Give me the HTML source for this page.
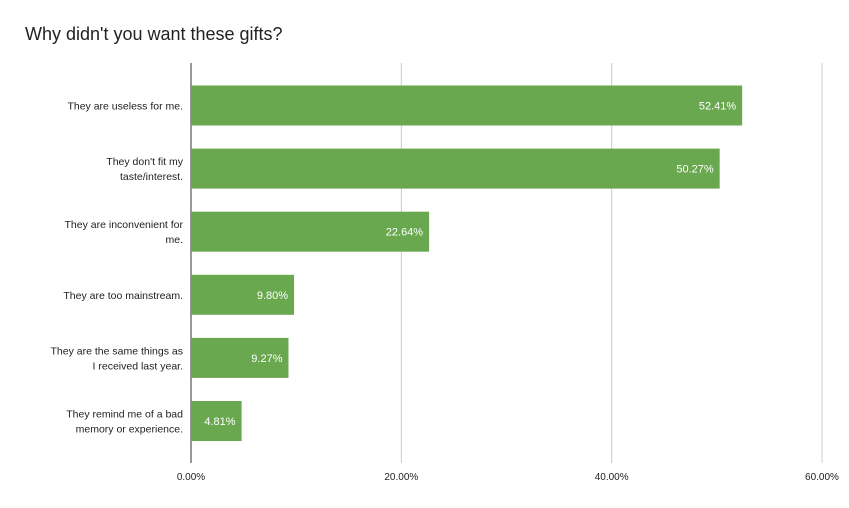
<!DOCTYPE html>
<html><head><meta charset="utf-8"><style>
body{margin:0;background:#fff;}
svg{display:block;font-family:"Liberation Sans",Arial,sans-serif;}
</style></head><body>
<svg id="chart" width="849" height="508">
<text x="25" y="40" font-size="18" fill="#222">Why didn't you want these gifts?</text>
<g id="grid"></g><g id="bars"></g><g id="labels"></g>
</svg>
<script>
const categories=[["They are useless for me."],["They don't fit my","taste/interest."],["They are inconvenient for","me."],["They are too mainstream."],["They are the same things as","I received last year."],["They remind me of a bad","memory or experience."]];
const values=[52.41,50.27,22.64,9.80,9.27,4.81];
const ticks=[0,20,40,60];
const tickLabels=["0.00%","20.00%","40.00%","60.00%"];
const NS="http://www.w3.org/2000/svg";
const x0=191,x1=822,xmax=60;
const xs=v=>x0+(v/xmax)*(x1-x0);
const yc=i=>105.5+i*63.1;
function mk(t,a,p){const e=document.createElementNS(NS,t);for(const k in a)e.setAttribute(k,a[k]);p.appendChild(e);return e;}
const g=document.getElementById('grid'),b=document.getElementById('bars'),l=document.getElementById('labels');
ticks.forEach((t,i)=>{
 const ln=mk('line',{x1:xs(t),x2:xs(t),y1:63,y2:463,stroke:i==0?'#333':'#ccc','stroke-width':1},g);
 
 
 const tx=mk('text',{x:xs(t),y:480,'text-anchor':'middle','font-size':10,fill:'#222'},g);
 tx.textContent=tickLabels[i];
 
 
});
values.forEach((v,i)=>{
 const r=mk('rect',{x:x0,y:yc(i)-20,width:xs(v)-x0,height:40,fill:'#6aa84f'},b);
 
 
 const vt=mk('text',{x:xs(v)-6,y:yc(i)+4,'text-anchor':'end','font-size':11,fill:'#fff'},b);
 vt.textContent=v.toFixed(2)+'%';
 
 
 const lines=categories[i];
 lines.forEach((s,j)=>{
  const ct=mk('text',{x:183,y:yc(i)+4+(j-(lines.length-1)/2)*15,'text-anchor':'end','font-size':10.5,fill:'#222'},l);
  ct.textContent=s;
  
  
 });
});
</script>
</body></html>
